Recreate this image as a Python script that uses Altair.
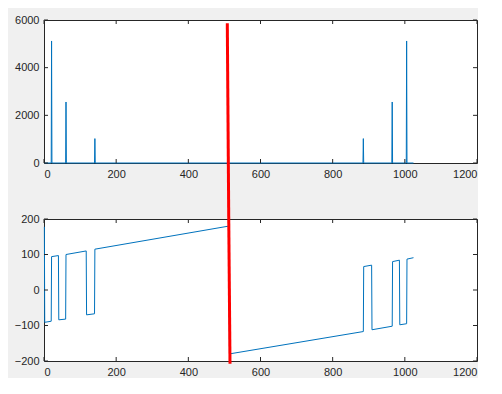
import altair as alt
import pandas as pd

# ---- data ----
mag_x = [1, 20, 21, 22, 60, 61, 62, 140, 141, 142, 884, 885, 886, 964, 965, 966, 1004, 1005, 1006, 1024]
mag_y = [0, 0, 5120, 0, 0, 2560, 0, 0, 1024, 0, 0, 1024, 0, 0, 2560, 0, 0, 5120, 0, 0]

phase_x = [1, 2, 20, 21, 40, 41, 60, 61, 117, 118, 140, 141, 512, 514,
           885, 886, 908, 909, 965, 966, 985, 986, 1005, 1006, 1024]
phase_y = [178, -91, -88, 94, 97, -84, -82, 100, 110, -70, -67, 115, 180, -180,
           -117, 66, 70, -112, -102, 80, 84, -98, -95, 87, 91]

x_ticks = [0, 200, 400, 600, 800, 1000, 1200]
y1_ticks = [0, 2000, 4000, 6000]
y2_ticks = [-200, -100, 0, 100, 200]

# red annotation line (data coords): top end in upper axes, bottom end in lower axes
red_top = {"x": [508], "x2": [512], "y": [5860]}
red_bot = {"x": [515.5], "x2": [512], "y": [-208]}

# ---- styling ----
W, H1, H2, GAP = 433, 143, 142, 56
FONT = "Liberation Sans"
AXC = "#262626"
BLUE = "#0072BD"
TL = 4

xscale = alt.Scale(domain=[0, 1200], nice=False, zero=False)


def ax_x():
    return alt.Axis(values=x_ticks, title=None, tickSize=0, domain=False, grid=False,
                    labelPadding=5, labelFontSize=11, labelColor=AXC, labelFont=FONT,
                    format="d")


def ax_y(vals):
    return alt.Axis(values=vals, title=None, tickSize=0, domain=False, grid=False,
                    labelPadding=5, labelFontSize=11, labelColor=AXC, labelFont=FONT,
                    format="d")


def panel(df, yscale, yticks, H, red, red_y2):
    xa = ax_x()
    ya = ax_y(yticks)
    X = lambda f: alt.X(f, scale=xscale, axis=xa)
    Y = lambda f: alt.Y(f, scale=yscale, axis=ya)
    line = alt.Chart(df).mark_line(color=BLUE, strokeWidth=1).encode(
        x=X("x:Q"), y=Y("y:Q"))
    xt = pd.DataFrame({"t": x_ticks})
    yt = pd.DataFrame({"t": yticks})
    tb = alt.Chart(xt).mark_rule(color=AXC, strokeWidth=1).encode(
        x=X("t:Q"), y=alt.value(H), y2=alt.value(H - TL))
    tt = alt.Chart(xt).mark_rule(color=AXC, strokeWidth=1).encode(
        x=X("t:Q"), y=alt.value(0), y2=alt.value(TL))
    tl = alt.Chart(yt).mark_rule(color=AXC, strokeWidth=1).encode(
        y=Y("t:Q"), x=alt.value(0), x2=alt.value(TL))
    tr = alt.Chart(yt).mark_rule(color=AXC, strokeWidth=1).encode(
        y=Y("t:Q"), x=alt.value(W), x2=alt.value(W - TL))
    rd = alt.Chart(pd.DataFrame(red)).mark_rule(color="#ff0000", strokeWidth=3).encode(
        x=X("x:Q"), x2="x2:Q", y=Y("y:Q"), y2=alt.value(red_y2))
    return alt.layer(line, tb, tt, tl, tr, rd).properties(width=W, height=H)


top = panel(pd.DataFrame({"x": mag_x, "y": mag_y}),
            alt.Scale(domain=[0, 6000], nice=False, zero=False), y1_ticks, H1,
            red_top, H1 + GAP)
bot = panel(pd.DataFrame({"x": phase_x, "y": phase_y}),
            alt.Scale(domain=[-200, 200], nice=False, zero=False), y2_ticks, H2,
            red_bot, 0)

chart = alt.vconcat(top, bot, spacing=GAP, bounds="flush").properties(
    background="#f0f0f0",
    padding={"left": 5, "top": 5, "right": 0, "bottom": 0},
).configure_view(stroke=AXC, strokeWidth=1, fill="white")

chart.save("out.html", embed_options={"renderer": "svg", "actions": False})
